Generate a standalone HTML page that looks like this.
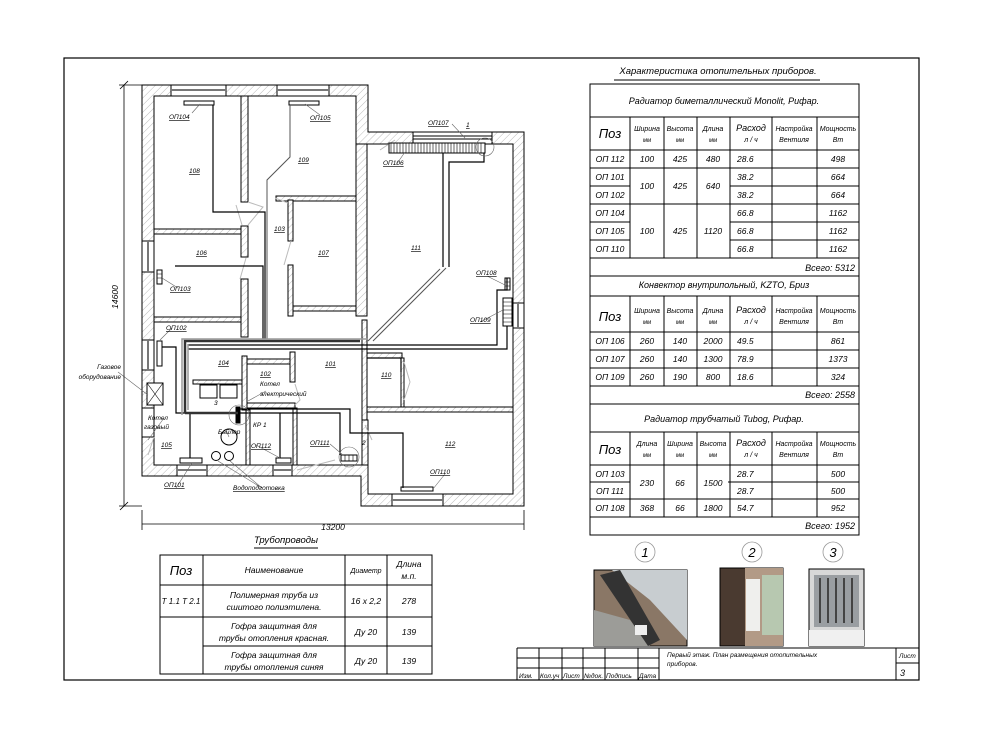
<!DOCTYPE html>
<html><head><meta charset="utf-8"><style>
html,body{margin:0;padding:0;background:#fff;}
svg{display:block;font-family:"Liberation Sans","DejaVu Sans",sans-serif;font-style:italic;}
</style></head><body>
<svg width="989" height="736" viewBox="0 0 989 736" xmlns="http://www.w3.org/2000/svg">
<defs>
<pattern id="h" width="5" height="5" patternUnits="userSpaceOnUse" patternTransform="rotate(45)">
<rect width="5" height="5" fill="#fff"/><line x1="0" y1="0" x2="0" y2="5" stroke="#aaa" stroke-width="0.8"/>
</pattern>
</defs>
<rect width="989" height="736" fill="#fff"/>
<rect x="64" y="58" width="855" height="622" fill="none" stroke="#000" stroke-width="1.2"/>

<g stroke="#000" stroke-width="1">
<polygon points="142,85 368,85 368,132 524,132 524,506 361,506 361,476 142,476" fill="url(#h)"/>
<polygon points="154,96 356,96 356,144 513,144 513,494 368,494 368,465 154,465" fill="#fff"/>
<g fill="url(#h)">
<rect x="241" y="96" width="7" height="106"/>
<rect x="154" y="229" width="87" height="5"/>
<rect x="241" y="226" width="7" height="31"/>
<rect x="241" y="279" width="7" height="58"/>
<rect x="154" y="317" width="87" height="5"/>
<rect x="276" y="196" width="86" height="5"/>
<rect x="288" y="200" width="5" height="41"/>
<rect x="288" y="265" width="5" height="51"/>
<rect x="293" y="306" width="69" height="5"/>
<rect x="356" y="144" width="11" height="172"/>
<rect x="362" y="320" width="5" height="105"/>
<rect x="362" y="420" width="6" height="45" />
<rect x="367" y="353" width="35" height="5"/>
<rect x="367" y="407" width="146" height="5"/>
<rect x="401" y="358" width="3" height="49"/>
<rect x="242" y="356" width="5" height="54"/>
<rect x="247" y="359" width="48" height="5"/>
<rect x="290" y="352" width="5" height="30"/>
<rect x="193" y="380" width="49" height="4"/>
<rect x="247" y="403" width="48" height="5"/>
<rect x="246" y="410" width="4" height="55"/>
<rect x="293" y="408" width="4" height="57"/>
</g>
<g fill="#fff">
<rect x="171" y="85" width="55" height="11"/><rect x="277" y="85" width="52" height="11"/>
<rect x="413" y="132" width="79" height="12"/>
<rect x="142" y="241" width="12" height="31"/><rect x="142" y="340" width="12" height="30"/>
<rect x="513" y="303" width="11" height="25"/>
<rect x="177" y="465" width="30" height="11"/><rect x="273" y="465" width="19" height="11"/>
<rect x="392" y="494" width="51" height="12"/>
<rect x="142" y="408" width="12" height="29"/>
</g>
<g stroke="#777" stroke-width="2">
<line x1="171" y1="90" x2="226" y2="90"/><line x1="277" y1="90" x2="329" y2="90"/>
<line x1="413" y1="138" x2="492" y2="138"/>
<line x1="148" y1="241" x2="148" y2="272"/><line x1="148" y1="340" x2="148" y2="370"/>
<line x1="518" y1="303" x2="518" y2="328"/>
<line x1="177" y1="470" x2="207" y2="470"/><line x1="273" y1="470" x2="292" y2="470"/>
<line x1="392" y1="500" x2="443" y2="500"/>
</g>
</g>
<g stroke="#bbb" stroke-width="1" fill="none">
<polyline points="236,205 242,225"/><polyline points="248,202 263,207 248,225"/>
<polyline points="246,258 240,279"/><polyline points="275,198 288,203"/>
<polyline points="291,241 284,265"/><polyline points="404,362 410,382 404,400"/>
<polyline points="295,384 300,400 295,405"/><polyline points="365,425 372,440"/>
<polyline points="154,437 148,455"/><polyline points="297,470 335,460"/>
<polyline points="380,150 395,140"/>
</g>
<g stroke="#000" stroke-width="1" fill="#fff">
<rect x="184" y="101" width="30" height="4"/><rect x="289" y="101" width="30" height="4"/>
<rect x="413" y="136" width="79" height="3"/>
<rect x="389" y="143" width="96" height="10" fill="#fff"/>
<rect x="157" y="270" width="5" height="14"/>
<rect x="157" y="341" width="5" height="25"/>
<rect x="505" y="278" width="5" height="12"/>
<rect x="503" y="298" width="9" height="28"/>
<rect x="180" y="458" width="22" height="5"/>
<rect x="276" y="458" width="15" height="5"/>
<rect x="341" y="455" width="16" height="6"/>
<rect x="401" y="487" width="32" height="4"/>
<rect x="200" y="385" width="17" height="13"/><rect x="220" y="385" width="17" height="13"/>
<rect x="236" y="407" width="4" height="16" fill="#000"/>
<rect x="147" y="383" width="16" height="22"/>
<circle cx="229" cy="437" r="8"/><circle cx="216" cy="456" r="4.5"/><circle cx="229" cy="456" r="4.5"/>
</g>
<g stroke="#000" stroke-width="0.6">
<path d="M391,143v10M394,143v10M397,143v10M400,143v10M403,143v10M406,143v10M409,143v10M412,143v10M415,143v10M418,143v10M421,143v10M424,143v10M427,143v10M430,143v10M433,143v10M436,143v10M439,143v10M442,143v10M445,143v10M448,143v10M451,143v10M454,143v10M457,143v10M460,143v10M463,143v10M466,143v10M469,143v10M472,143v10M475,143v10M478,143v10M481,143v10"/>
<path d="M503,302h9M503,306h9M503,310h9M503,314h9M503,318h9M503,322h9"/>
<path d="M157,274h5M157,278h5M505,282h5M505,286h5M345,455v6M349,455v6M353,455v6"/>
<path d="M147,383l16,22M163,383l-16,22"/>
</g>
<g fill="none" stroke="#000" stroke-width="1.2">
<polyline points="213,105 213,212 265,212 265,339"/>
<polyline points="175,266 263,266 263,339"/>
<polyline points="162,347 176,347 176,413 188,413"/>
<polyline points="443,153 443,267"/>
<polyline points="484,153 484,162 449,162 449,267"/>
<polyline points="238,409 350,409 350,433 403,433 403,488"/>
<polyline points="238,413 340,413 340,455"/>
<polyline points="280,413 280,458"/>
<polyline points="190,413 190,458"/>
<polyline points="188,345 497,345 497,290 507,290 507,278"/>
<polyline points="188,349 507,349 507,326"/>
<polyline points="367,358 401,358 401,372"/>
</g>
<g fill="none" stroke="#555" stroke-width="1">
<polyline points="267,339 267,180 290,157 290,105"/>
<polyline points="368,341 440,269"/><polyline points="373,341 446,268"/>
</g>
<g fill="none" stroke="#333" stroke-width="2.5">
<polyline points="185,413 185,341 360,341"/>
<polyline points="185,413 238,413"/>
</g>
<g fill="none" stroke="#999" stroke-width="1.5">
<polyline points="182,415 182,339 368,339"/><polyline points="188,410 188,344"/>
</g>
<g stroke="#666" stroke-width="0.6" fill="none">
<line x1="192" y1="113" x2="200" y2="104"/><line x1="320" y1="115" x2="305" y2="104"/>
<line x1="396" y1="165" x2="405" y2="152"/><line x1="452" y1="124" x2="465" y2="138"/>
<line x1="178" y1="288" x2="162" y2="278"/><line x1="487" y1="276" x2="505" y2="285"/>
<line x1="480" y1="322" x2="503" y2="310"/><line x1="172" y1="328" x2="160" y2="340"/>
<line x1="118" y1="372" x2="148" y2="395"/><line x1="266" y1="391" x2="248" y2="401"/>
<line x1="164" y1="418" x2="148" y2="440"/><line x1="226" y1="430" x2="229" y2="437"/>
<line x1="256" y1="445" x2="280" y2="458"/><line x1="330" y1="444" x2="343" y2="455"/>
<line x1="445" y1="474" x2="433" y2="489"/><line x1="176" y1="488" x2="192" y2="463"/>
<line x1="262" y1="488" x2="218" y2="461"/><line x1="262" y1="488" x2="230" y2="461"/>
<circle cx="485" cy="147" r="9"/><circle cx="349" cy="457" r="10"/><circle cx="239" cy="415" r="10"/>
</g>
<g stroke="#000" stroke-width="0.8">
<line x1="124" y1="85" x2="124" y2="506"/><line x1="119" y1="85" x2="142" y2="85"/><line x1="119" y1="506" x2="142" y2="506"/>
<line x1="120" y1="89" x2="128" y2="81"/><line x1="120" y1="510" x2="128" y2="502"/>
<line x1="142" y1="524" x2="524" y2="524"/><line x1="142" y1="510" x2="142" y2="530"/><line x1="524" y1="510" x2="524" y2="530"/>
</g>
<g font-size="8.5" fill="#000">
<text x="118" y="297" transform="rotate(-90 118 297)" text-anchor="middle">14600</text>
<text x="333" y="530" text-anchor="middle">13200</text>
</g>
<g font-size="6.5" fill="#000" text-decoration="underline">
<text x="169" y="119">ОП104</text><text x="310" y="120">ОП105</text><text x="428" y="125">ОП107</text>
<text x="466" y="127" text-decoration="none">1</text><text x="383" y="165">ОП106</text>
<text x="189" y="173">108</text><text x="298" y="162">109</text><text x="274" y="231">103</text>
<text x="318" y="255">107</text><text x="411" y="250">111</text><text x="196" y="255">106</text>
<text x="170" y="291">ОП103</text><text x="476" y="275">ОП108</text><text x="470" y="322">ОП109</text>
<text x="166" y="330">ОП102</text><text x="218" y="365">104</text><text x="325" y="366">101</text>
<text x="260" y="376">102</text><text x="381" y="377">110</text>
<text x="161" y="447">105</text><text x="445" y="446">112</text><text x="310" y="445">ОП111</text>
<text x="251" y="448">ОП112</text><text x="430" y="474">ОП110</text><text x="164" y="487">ОП101</text>
<text x="233" y="490">Водоподготовка</text>
</g>
<g font-size="6.5" fill="#000">
<text x="260" y="386">Котел</text><text x="260" y="396">электрический</text>
<text x="121" y="369" text-anchor="end">Газовое</text><text x="121" y="379" text-anchor="end">оборудование</text>
<text x="148" y="420">Котел</text><text x="144" y="429">газовый</text>
<text x="214" y="405">3</text><text x="253" y="427">КР 1</text><text x="218" y="434">Байлер</text>
<text x="362" y="445">2</text>
</g>

<g font-size="9.5" fill="#000">
<text x="718" y="74" text-anchor="middle">Характеристика отопительных приборов.</text>
</g>
<line x1="614" y1="80" x2="820" y2="80" stroke="#000"/>
<g stroke="#000" stroke-width="1" fill="none">
<rect x="590" y="84" width="269" height="451"/>
<path d="M590,117H859M590,150H859M590,168H859M730,186H859M590,204H859M730,222H859M730,240H859M590,258H859M590,276H859M590,296H859M590,332H859M590,350H859M590,368H859M590,386H859M590,404H859M590,432H859M590,465H859M728,482H859M590,499H859M590,517H859"/>
<path d="M630,117V258M664,117V258M697,117V258M730,117V258M772,117V258M817,117V258"/>
<path d="M630,296V386M664,296V386M697,296V386M730,296V386M772,296V386M817,296V386"/>
<path d="M630,432V517M664,432V517M697,432V517M730,432V517M772,432V517M817,432V517"/>
<path d="M590,186H630M590,222H630M590,240H630M590,482H630"/>
</g>
<g fill="#000" font-size="9">
<text x="724" y="104" text-anchor="middle">Радиатор биметаллический Monolit, Рифар.</text>
<text x="724" y="288" text-anchor="middle">Конвектор внутрипольный, KZTO, Бриз</text>
<text x="724" y="422" text-anchor="middle">Радиатор трубчатый Tubog, Рифар.</text>
<text x="855" y="271" text-anchor="end">Всего: 5312</text>
<text x="855" y="398" text-anchor="end">Всего: 2558</text>
<text x="855" y="529" text-anchor="end">Всего: 1952</text>
</g>
<g fill="#000" font-size="7" text-anchor="middle">
<text x="610" y="138" font-size="13">Поз</text><text x="610" y="321" font-size="13">Поз</text><text x="610" y="454" font-size="13">Поз</text>
<text x="647" y="131">Ширина</text><text x="647" y="142" font-size="6">мм</text>
<text x="680" y="131">Высота</text><text x="680" y="142" font-size="6">мм</text>
<text x="713" y="131">Длина</text><text x="713" y="142" font-size="6">мм</text>
<text x="751" y="131" font-size="9">Расход</text><text x="751" y="142">л / ч</text>
<text x="794" y="131">Настройка</text><text x="794" y="142">Вентиля</text>
<text x="838" y="131">Мощность</text><text x="838" y="142">Вт</text>
<text x="647" y="313">Ширина</text><text x="647" y="324" font-size="6">мм</text>
<text x="680" y="313">Высота</text><text x="680" y="324" font-size="6">мм</text>
<text x="713" y="313">Длина</text><text x="713" y="324" font-size="6">мм</text>
<text x="751" y="313" font-size="9">Расход</text><text x="751" y="324">л / ч</text>
<text x="794" y="313">Настройка</text><text x="794" y="324">Вентиля</text>
<text x="838" y="313">Мощность</text><text x="838" y="324">Вт</text>
<text x="647" y="446">Длина</text><text x="647" y="457" font-size="6">мм</text>
<text x="680" y="446">Ширина</text><text x="680" y="457" font-size="6">мм</text>
<text x="713" y="446">Высота</text><text x="713" y="457" font-size="6">мм</text>
<text x="751" y="446" font-size="9">Расход</text><text x="751" y="457">л / ч</text>
<text x="794" y="446">Настройка</text><text x="794" y="457">Вентиля</text>
<text x="838" y="446">Мощность</text><text x="838" y="457">Вт</text>
</g>
<g fill="#000" font-size="8.5">
<g text-anchor="middle">
<text x="610" y="162">ОП 112</text><text x="610" y="180">ОП 101</text><text x="610" y="198">ОП 102</text>
<text x="610" y="216">ОП 104</text><text x="610" y="234">ОП 105</text><text x="610" y="252">ОП 110</text>
<text x="647" y="162">100</text><text x="680" y="162">425</text><text x="713" y="162">480</text>
<text x="647" y="189">100</text><text x="680" y="189">425</text><text x="713" y="189">640</text>
<text x="647" y="234">100</text><text x="680" y="234">425</text><text x="713" y="234">1120</text>
<text x="838" y="162">498</text><text x="838" y="180">664</text><text x="838" y="198">664</text>
<text x="838" y="216">1162</text><text x="838" y="234">1162</text><text x="838" y="252">1162</text>
<text x="610" y="344">ОП 106</text><text x="610" y="362">ОП 107</text><text x="610" y="380">ОП 109</text>
<text x="647" y="344">260</text><text x="680" y="344">140</text><text x="713" y="344">2000</text>
<text x="647" y="362">260</text><text x="680" y="362">140</text><text x="713" y="362">1300</text>
<text x="647" y="380">260</text><text x="680" y="380">190</text><text x="713" y="380">800</text>
<text x="838" y="344">861</text><text x="838" y="362">1373</text><text x="838" y="380">324</text>
<text x="610" y="477">ОП 103</text><text x="610" y="494">ОП 111</text><text x="610" y="511">ОП 108</text>
<text x="647" y="486">230</text><text x="680" y="486">66</text><text x="713" y="486">1500</text>
<text x="647" y="511">368</text><text x="680" y="511">66</text><text x="713" y="511">1800</text>
<text x="838" y="477">500</text><text x="838" y="494">500</text><text x="838" y="511">952</text>
</g>
<text x="737" y="162">28.6</text><text x="737" y="180">38.2</text><text x="737" y="198">38.2</text>
<text x="737" y="216">66.8</text><text x="737" y="234">66.8</text><text x="737" y="252">66.8</text>
<text x="737" y="344">49.5</text><text x="737" y="362">78.9</text><text x="737" y="380">18.6</text>
<text x="737" y="477">28.7</text><text x="737" y="494">28.7</text><text x="737" y="511">54.7</text>
</g>

<text x="286" y="543" text-anchor="middle" font-size="9.5" fill="#000">Трубопроводы</text>
<line x1="254" y1="548" x2="318" y2="548" stroke="#000"/>
<g stroke="#000" fill="none">
<rect x="160" y="555" width="272" height="119"/>
<path d="M160,585H432M160,617H432M203,646H432M203,555V674M345,555V674M387,555V674"/>
</g>
<g fill="#000" font-size="8.5" text-anchor="middle">
<text x="181" y="575" font-size="13">Поз</text>
<text x="274" y="573">Наименование</text>
<text x="366" y="573" font-size="7">Диаметр</text>
<text x="409" y="567">Длина</text><text x="409" y="579">м.п.</text>
<text x="181" y="604" font-size="8">Т 1.1 Т 2.1</text>
<text x="274" y="598">Полимерная труба из</text><text x="274" y="610">сшитого полиэтилена.</text>
<text x="366" y="604">16 х 2,2</text><text x="409" y="604">278</text>
<text x="274" y="629">Гофра защитная для</text><text x="274" y="641">трубы отопления красная.</text>
<text x="366" y="635">Ду 20</text><text x="409" y="635">139</text>
<text x="274" y="658">Гофра защитная для</text><text x="274" y="670">трубы отопления синяя</text>
<text x="366" y="664">Ду 20</text><text x="409" y="664">139</text>
</g>

<g stroke="#999" fill="#fff" stroke-width="0.8">
<circle cx="645" cy="552" r="10"/><circle cx="752" cy="552" r="10"/><circle cx="833" cy="552" r="10"/>
</g>
<g fill="#000" font-size="13" text-anchor="middle">
<text x="645" y="557">1</text><text x="752" y="557">2</text><text x="833" y="557">3</text>
</g>
<rect x="594" y="570" width="93" height="76" fill="#8a7766" stroke="#000"/>
<polygon points="612,570 687,570 687,640 650,600" fill="#c8cdd0"/>
<polygon points="594,610 594,646 650,646 630,620" fill="#9c9c98"/>
<polygon points="600,575 620,570 660,640 648,646" fill="#333"/>
<rect x="635" y="625" width="12" height="10" fill="#eee"/>
<rect x="720" y="568" width="63" height="78" fill="#4a3a30" stroke="#000"/>
<rect x="745" y="568" width="38" height="78" fill="#b29a86"/>
<rect x="762" y="575" width="21" height="60" fill="#b7c8b0"/>
<rect x="746" y="579" width="14" height="52" fill="#efefed"/>
<rect x="809" y="569" width="55" height="77" fill="#d8d8d8" stroke="#000"/>
<rect x="814" y="575" width="45" height="52" fill="#9a9ea2"/>
<rect x="809" y="630" width="55" height="16" fill="#f0f0f0"/>
<path d="M820,578v45M828,578v45M836,578v45M844,578v45M852,578v45" stroke="#444" stroke-width="2"/>

<g stroke="#000" fill="none" stroke-width="1">
<path d="M517,648H919M517,648V680M517,658H659M517,668H659M539,648V680M562,648V680M583,648V680M605,648V680M638,648V680M659,648V680M896,648V680M896,663H919"/>
</g>
<g fill="#000" font-size="6.5">
<text x="519" y="678">Изм.</text><text x="540" y="678">Кол.уч</text><text x="563" y="678">Лист</text>
<text x="584" y="678">№док.</text><text x="606" y="678">Подпись</text><text x="639" y="678">Дата</text>
<text x="667" y="657">Первый этаж. План размещения отопительных</text>
<text x="667" y="666">приборов.</text>
<text x="899" y="658">Лист</text>
<text x="900" y="676" font-size="9">3</text>
</g>
</svg>
</body></html>
